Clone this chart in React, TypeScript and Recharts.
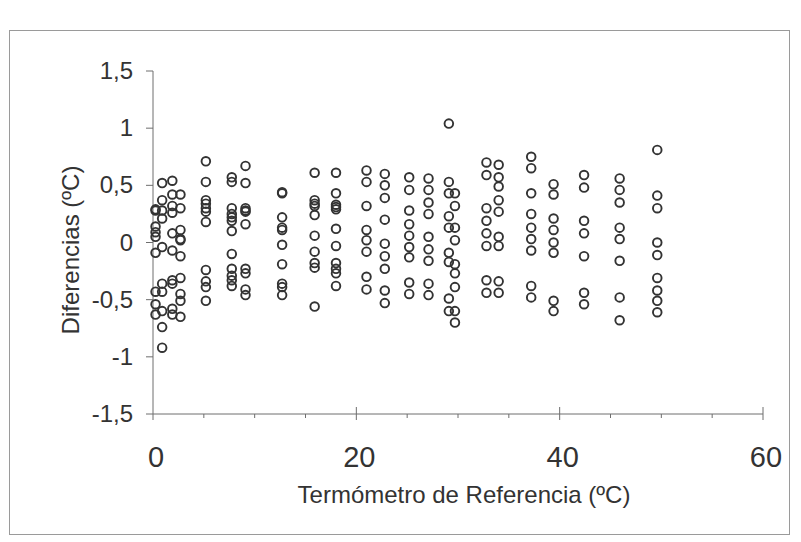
import React from 'react'
import { ScatterChart, Scatter, XAxis, YAxis } from 'recharts'

// reference thermometer reading of each column of points (ºC)
const columnTemps = [0.25, 0.9, 1.9, 2.7, 5.2, 7.75, 9.1, 12.7, 15.9, 18.0, 21.0, 22.8, 25.2, 27.1, 29.1, 29.7, 32.8, 34.0, 37.2, 39.4, 42.4, 45.9, 49.6]

// differences measured at each column (ºC)
const col00 = [0.29, 0.28, 0.14, 0.09, 0.05, -0.09, -0.43, -0.54, -0.63]
const col01 = [0.52, 0.37, 0.28, 0.21, -0.04, -0.36, -0.43, -0.6, -0.74, -0.92]
const col02 = [0.54, 0.42, 0.32, 0.26, 0.08, -0.07, -0.33, -0.36, -0.58, -0.63]
const col03 = [0.42, 0.3, 0.11, 0.03, 0.02, -0.12, -0.31, -0.45, -0.51, -0.65]
const col04 = [0.71, 0.53, 0.37, 0.34, 0.3, 0.27, 0.18, -0.24, -0.34, -0.39, -0.51]
const col05 = [0.57, 0.53, 0.3, 0.25, 0.22, 0.19, 0.1, -0.1, -0.23, -0.29, -0.33, -0.38]
const col06 = [0.67, 0.52, 0.3, 0.28, 0.27, 0.16, -0.23, -0.27, -0.41, -0.46]
const col07 = [0.44, 0.43, 0.22, 0.13, 0.11, -0.02, -0.19, -0.36, -0.39, -0.46]
const col08 = [0.61, 0.37, 0.34, 0.32, 0.24, 0.06, -0.08, -0.18, -0.22, -0.56]
const col09 = [0.61, 0.43, 0.33, 0.31, 0.29, 0.12, -0.03, -0.18, -0.23, -0.27, -0.38]
const col10 = [0.63, 0.53, 0.32, 0.11, 0.02, -0.08, -0.3, -0.41]
const col11 = [0.6, 0.5, 0.39, 0.2, -0.01, -0.12, -0.23, -0.42, -0.53]
const col12 = [0.57, 0.46, 0.28, 0.16, 0.06, -0.04, -0.13, -0.35, -0.45]
const col13 = [0.56, 0.46, 0.35, 0.25, 0.05, -0.06, -0.16, -0.36, -0.46]
const col14 = [1.04, 0.53, 0.43, 0.23, 0.13, -0.09, -0.17, -0.49, -0.6]
const col15 = [0.43, 0.32, 0.13, 0.02, -0.19, -0.27, -0.39, -0.6, -0.7]
const col16 = [0.7, 0.59, 0.3, 0.19, 0.08, -0.03, -0.33, -0.44]
const col17 = [0.68, 0.57, 0.49, 0.37, 0.27, 0.05, -0.03, -0.34, -0.44]
const col18 = [0.75, 0.65, 0.43, 0.25, 0.13, 0.03, -0.07, -0.38, -0.48]
const col19 = [0.51, 0.42, 0.21, 0.11, 0.0, -0.09, -0.51, -0.6]
const col20 = [0.59, 0.48, 0.19, 0.08, -0.12, -0.44, -0.54]
const col21 = [0.56, 0.46, 0.35, 0.13, 0.03, -0.16, -0.48, -0.68]
const col22 = [0.81, 0.41, 0.3, 0.0, -0.11, -0.31, -0.42, -0.51, -0.61]

const columnDiffs = [col00, col01, col02, col03, col04, col05, col06, col07, col08, col09, col10, col11,
  col12, col13, col14, col15, col16, col17, col18, col19, col20, col21, col22]

const xTicks = [0, 5, 10, 15, 20, 25, 30, 35, 40, 45, 50, 55, 60]
const xLabelled = [0, 20, 40, 60]
const yTicks = [-1.5, -1, -0.5, 0, 0.5, 1, 1.5]

const points = columnTemps.flatMap((t, i) => columnDiffs[i].map(d => ({ temp: t, diff: d })))

const AXIS = '#6e6e6e'
const INK = '#333333'
const FONT = '"Liberation Sans", Arial, sans-serif'

const XTick = ({ x, y, payload }: any) => {
  const v = payload.value
  const major = xLabelled.includes(v)
  return (
    <g>
      {v === 0 ? (
        <line x1={x} x2={x} y1={y} y2={y + 6} stroke={AXIS} strokeWidth={1} />
      ) : major ? (
        <line x1={x} x2={x} y1={y - 7} y2={y + 6} stroke={AXIS} strokeWidth={1} />
      ) : (
        <line x1={x} x2={x} y1={y} y2={y + 4} stroke={AXIS} strokeWidth={1} />
      )}
      {major && (
        <text x={x + 3} y={y + 53} textAnchor="middle" fontSize={29} fill={INK} fontFamily={FONT}>
          {v}
        </text>
      )}
    </g>
  )
}

const YTick = ({ x, y, payload }: any) => (
  <g>
    <line x1={x - 7} x2={x} y1={y} y2={y} stroke={AXIS} strokeWidth={1} />
    <text x={x - 20} y={y + 8} textAnchor="end" fontSize={24} fill={INK} fontFamily={FONT}>
      {String(payload.value).replace('.', ',')}
    </text>
  </g>
)

const Ring = ({ cx, cy }: any) => (
  <circle cx={cx} cy={cy} r={4.3} fill="none" stroke="#333" strokeWidth={1.9} />
)

// axis titles placed where the reference has them
const XTitle = () => (
  <text x={456} y={495} textAnchor="middle" fontSize={24} fill={INK} fontFamily={FONT}>
    Termómetro de Referencia (ºC)
  </text>
)

const YTitle = () => (
  <text x={62} y={242} transform="rotate(-90 62 242)" textAnchor="middle" dominantBaseline="central"
    fontSize={24} fill={INK} fontFamily={FONT}>
    Diferencias (ºC)
  </text>
)

export default function App() {
  return (
    <div style={{ position: 'relative', width: 785, height: 530, background: '#fff' }}>
      <div
        style={{
          position: 'absolute', left: 1, top: 22, width: 781, height: 505,
          border: '1px solid #9a9a9a', boxSizing: 'border-box',
        }}
      />
      <div style={{ position: 'absolute', left: 0, top: 0 }}>
        <ScatterChart width={785} height={530} margin={{ top: 63, right: 30, left: 45, bottom: 34 }}>
          <XAxis
            type="number"
            dataKey="temp"
            domain={[0, 60]}
            ticks={xTicks}
            interval={0}
            tickSize={0}
            tickMargin={0}
            tick={<XTick />}
            height={90}
            stroke={AXIS}
            label={{ content: <XTitle /> }}
          />
          <YAxis
            type="number"
            dataKey="diff"
            domain={[-1.5, 1.5]}
            ticks={yTicks}
            interval={0}
            tickSize={0}
            tickMargin={0}
            tick={<YTick />}
            width={100}
            stroke={AXIS}
            label={{ content: <YTitle /> }}
          />
          <Scatter data={points} shape={<Ring />} isAnimationActive={false} />
        </ScatterChart>
      </div>
    </div>
  )
}
